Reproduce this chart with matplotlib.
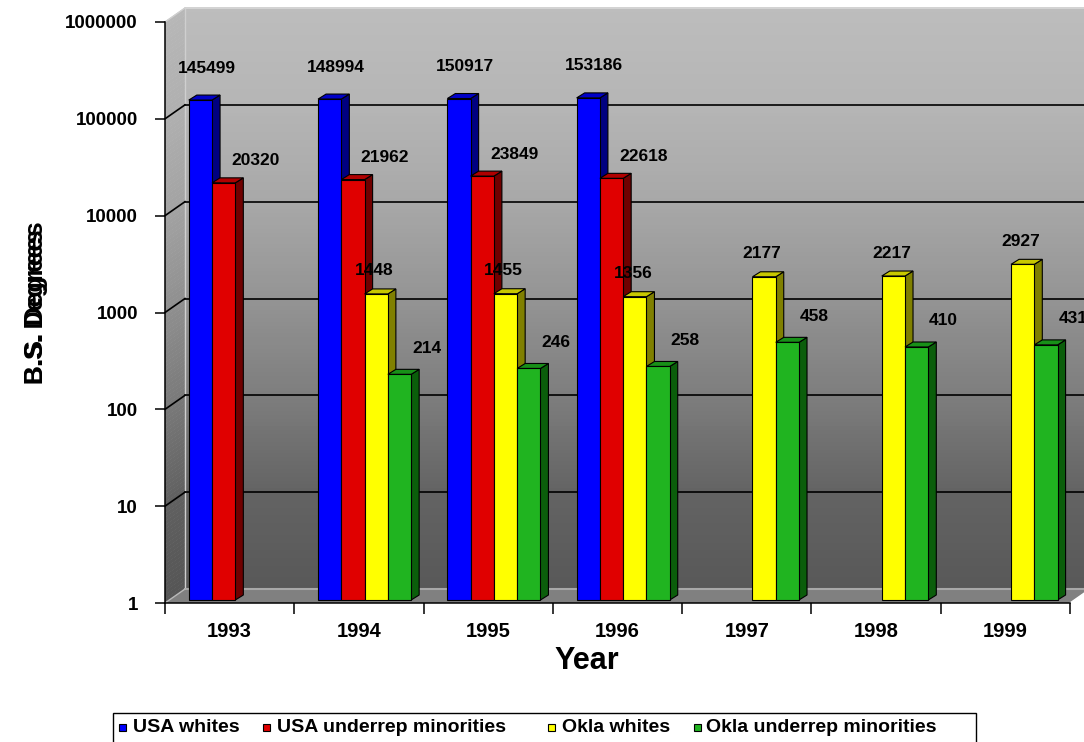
import numpy as np
import matplotlib
matplotlib.use("Agg")
import matplotlib.pyplot as plt
from matplotlib.patches import Polygon, Rectangle
from matplotlib.lines import Line2D
from matplotlib.transforms import IdentityTransform
from matplotlib.ticker import NullLocator

plt.rcParams['font.family'] = ['Liberation Sans', 'DejaVu Sans']
plt.rcParams['font.weight'] = 'bold'

# --- data -------------------------------------------------------------
years = ['1993', '1994', '1995', '1996', '1997', '1998', '1999']
series = ['USA whites', 'USA underrep minorities', 'Okla whites', 'Okla underrep minorities']
usa_whites = [145499, 148994, 150917, 153186, None, None, None]
usa_minorities = [20320, 21962, 23849, 22618, None, None, None]
okla_whites = [None, 1448, 1455, 1356, 2177, 2217, 2927]
okla_minorities = [None, 214, 246, 258, 458, 410, 431]
ytick_vals = [1, 10, 100, 1000, 10000, 100000, 1000000]
ytick_labels = ['1', '10', '100', '1000', '10000', '100000', '1000000']

# front / side / top colours per series
faces = ['#0000ff', '#e00000', '#ffff00', '#20b420']
sides = ['#000080', '#700000', '#808000', '#0b5e0b']
tops = ['#0000c8', '#b00000', '#c8c800', '#189018']
# label offsets in pixels (x, y) from bar front-top centre
lab_off = [(6, 32), (32, 22), (-2, 23), (27, 26)]

W, H = 1084, 742
fig = plt.figure(figsize=(W / 100, H / 100), dpi=100)
ax = fig.add_axes([165 / W, 139 / H, 905 / W, 581 / H])
ax.set_autoscale_on(False)
ax.set_yscale('log')
ax.set_xlim(0, 7)
ax.set_ylim(1, 1e6)
ax.patch.set_visible(False)
ID = IdentityTransform()

WX, WY = 20, 14     # wall depth (px)
BX, BY = 4, 3       # bar front plane offset
DX, DY = 8, 5       # bar depth

x0, y0 = ax.transAxes.transform((0, 0))
x1, y1 = ax.transAxes.transform((1, 1))

def wall_gray(f):
    # f = 0 top, 1 bottom
    return np.interp(f, [0, .17, .33, .5, .67, .83, 1.0],
                     [.74, .71, .66, .58, .49, .39, .345])

N = 150
for k in range(N):
    ya = y0 + (y1 - y0) * k / N
    yb = y0 + (y1 - y0) * (k + 1) / N + 0.6
    g = wall_gray(1 - (k + .5) / N)
    c = (g, g, g)
    ax.add_patch(Polygon([(x0 + WX, ya + WY), (x1 + WX, ya + WY), (x1 + WX, yb + WY), (x0 + WX, yb + WY)],
                         closed=True, facecolor=c, edgecolor='none', transform=ID, clip_on=False, zorder=0.1))
    gl = g * 0.97
    ax.add_patch(Polygon([(x0, ya), (x0 + WX, ya + WY), (x0 + WX, yb + WY), (x0, yb)],
                         closed=True, facecolor=(gl, gl, gl), edgecolor='none', transform=ID, clip_on=False, zorder=0.1))

# floor
ax.add_patch(Polygon([(x0, y0), (x1, y0), (x1 + WX, y0 + WY), (x0 + WX, y0 + WY)], closed=True,
                     facecolor='#808080', edgecolor='none', transform=ID, clip_on=False, zorder=0.3))
ax.add_line(Line2D([x0 + WX, x1 + WX], [y0 + WY, y0 + WY], color='#a8a8a8', lw=1.5, transform=ID, clip_on=False, zorder=0.35))
ax.add_line(Line2D([x0, x0 + WX], [y0, y0 + WY], color='#b8b8b8', lw=1, transform=ID, clip_on=False, zorder=0.35))
ax.add_line(Line2D([x1, x1 + WX], [y0, y0 + WY], color='#ffffff', lw=1, transform=ID, clip_on=False, zorder=0.35))
# wall corner + top edge
ax.add_line(Line2D([x0 + WX, x0 + WX], [y0 + WY, y1 + WY], color='#cfcfcf', lw=1, transform=ID, clip_on=False, zorder=0.2))
ax.add_line(Line2D([x0 + WX, x1 + WX], [y1 + WY, y1 + WY], color='#d8d8d8', lw=1.2, transform=ID, clip_on=False, zorder=0.2))
ax.add_line(Line2D([x0, x0 + WX], [y1, y1 + WY], color='#d0d0d0', lw=1, transform=ID, clip_on=False, zorder=0.2))

# gridlines
for v in ytick_vals[1:-1]:
    gy = ax.transData.transform((0, v))[1]
    ax.add_line(Line2D([x0 + WX, x1 + WX], [gy + WY, gy + WY], color='black', lw=1.2, transform=ID, clip_on=False, zorder=0.2))
    ax.add_line(Line2D([x0, x0 + WX], [gy, gy + WY], color='black', lw=1.2, transform=ID, clip_on=False, zorder=0.2))

# bars
data = [usa_whites, usa_minorities, okla_whites, okla_minorities]
bw = 0.18
z = 2
for i in range(len(years)):
    for j, vals in enumerate(data):
        v = vals[i]
        if v is None:
            continue
        xs = i + 0.153 + j * bw
        xl, yb = ax.transData.transform((xs, 1))
        xr, yt = ax.transData.transform((xs + bw, v))
        xl += BX; xr += BX; yb += BY; yt += BY
        kw = dict(closed=True, edgecolor='black', lw=0.8, transform=ID, clip_on=False)
        ax.add_patch(Polygon([(xr, yb), (xr + DX, yb + DY), (xr + DX, yt + DY), (xr, yt)], facecolor=sides[j], zorder=z, **kw))
        ax.add_patch(Polygon([(xl, yt), (xr, yt), (xr + DX, yt + DY), (xl + DX, yt + DY)], facecolor=tops[j], zorder=z, **kw))
        ax.add_patch(Polygon([(xl, yb), (xr, yb), (xr, yt), (xl, yt)], facecolor=faces[j], zorder=z + 0.1, **kw))
        z += 0.2
        ox, oy = lab_off[j]
        ax.annotate(str(v), xy=(xs + bw / 2, v), xytext=((ox + BX) * 0.72, (oy + BY) * 0.72),
                    textcoords='offset points', ha='center', va='center', fontsize=12.5, fontweight='bold',
                    zorder=20, annotation_clip=False)

# axes
for s in ['top', 'right']:
    ax.spines[s].set_visible(False)
for s in ['left', 'bottom']:
    ax.spines[s].set_linewidth(1.1)
    ax.spines[s].set_zorder(10)
ax.set_yticks(ytick_vals, labels=ytick_labels)
ax.yaxis.set_minor_locator(NullLocator())
ax.tick_params(axis='y', length=7.5, width=1.1, pad=12, labelsize=13.5)
ax.set_xticks(range(len(years) + 1), labels=[''] * (len(years) + 1))
ax.set_xticks(np.arange(len(years)) + 0.5, labels=years, minor=True)
ax.tick_params(axis='x', which='major', length=8, width=1.1)
ax.tick_params(axis='x', which='minor', length=0, pad=14, labelsize=14.5)

fig.text(587 / W, 1 - 661 / H, 'Year', ha='center', va='center', fontsize=22, fontweight='bold')
fig.text(36 / W, 1 - 384 / H, 'B.S. Degrees', rotation=90, ha='center', va='bottom', fontsize=19, fontweight='bold')
fig.text(36 / W, 1 - 384 / H, 'B.S. Degrees', rotation=90, ha='center', va='bottom', fontsize=18, fontweight='bold')

# legend (Excel-style box along the bottom)
fig.add_artist(Rectangle((113 / W, -0.02), (976 - 113) / W, 0.02 + (742 - 713) / H, transform=fig.transFigure,
                         facecolor='white', edgecolor='black', lw=1))
mark_x = [119, 263, 548, 694]
text_x = [133, 277, 562, 706]
for j, name in enumerate(series):
    fig.add_artist(Rectangle((mark_x[j] / W, (742 - 731) / H), 7 / W, 7 / H, transform=fig.transFigure,
                             facecolor=faces[j], edgecolor='black', lw=0.8))
    fig.text(text_x[j] / W, (742 - 727) / H, name, ha='left', va='center', fontsize=14, fontweight='bold')

fig.savefig('out.png', dpi=100)
